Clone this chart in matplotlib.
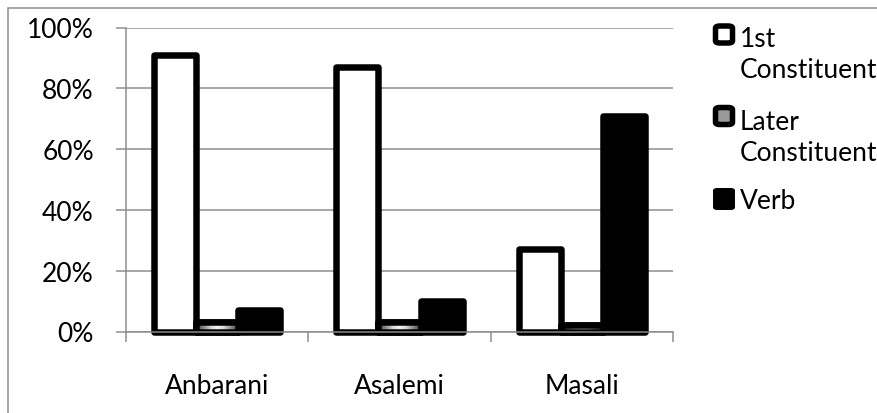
import numpy as np
import matplotlib
matplotlib.use("Agg")
import matplotlib.pyplot as plt
from matplotlib.patches import FancyBboxPatch, Rectangle
from matplotlib.ticker import PercentFormatter, FixedLocator

# ---- data ----
categories = ["Anbarani", "Asalemi", "Masali"]
series_names = ["1st\nConstituent", "Later\nConstituent", "Verb"]
first_constituent = [0.91, 0.87, 0.27]
later_constituent = [0.03, 0.03, 0.02]
verb = [0.07, 0.10, 0.71]
y_ticks = [0.0, 0.2, 0.4, 0.6, 0.8, 1.0]

W, H = 878, 414
DPI = 100
FONT = "Lato"
FS = 19
GRAY = "#8c8c8c"
PX = 72.0 / DPI  # points per pixel

plt.rcParams["font.family"] = [FONT, "DejaVu Sans"]

fig = plt.figure(figsize=(W / DPI, H / DPI), dpi=DPI)


def fx(px):
    return px / W


def fy(py):
    return 1 - py / H


# chart frame (top and left edges visible)
fig.add_artist(Rectangle((fx(8.3), fy(430)), fx(900), 421 / H,
                         transform=fig.transFigure, fill=False,
                         edgecolor=GRAY, linewidth=1.5 * PX))

left, right, top, bottom = 126, 673, 28.5, 332.5
ax = fig.add_axes([fx(left), 1 - bottom / H, (right - left) / W, (bottom - top) / H])

x = np.arange(len(categories))
bw = 42 / 182.3
lw = 6.5 * PX

ax.bar(x - bw, first_constituent, bw, facecolor="white", edgecolor="black",
       linewidth=lw, joinstyle="round", clip_on=False, zorder=1)
later_bars = ax.bar(x, later_constituent, bw, facecolor="#9a9a9a",
                    edgecolor="black", linewidth=lw, joinstyle="round",
                    clip_on=False, zorder=1)
ax.bar(x + bw, verb, bw, facecolor="black", edgecolor="black",
       linewidth=lw, joinstyle="round", clip_on=False, zorder=1)

# metallic grey shading inside the "later constituent" bars
grad = np.array([[0.35, 0.6, 0.85, 0.95, 0.85, 0.6, 0.35]])
for rect in later_bars:
    im = ax.imshow(grad, cmap="gray", vmin=0, vmax=1, aspect="auto",
                   extent=(rect.get_x(), rect.get_x() + rect.get_width(),
                           0, rect.get_height()), zorder=1.05,
                   interpolation="bilinear")
    im.set_clip_path(rect)
    outline = Rectangle((rect.get_x(), 0), rect.get_width(), rect.get_height(),
                        fill=False, edgecolor="black", linewidth=lw,
                        joinstyle="round", zorder=1.1, clip_on=False)
    ax.add_patch(outline)

ax.set_xlim(-0.5, len(categories) - 0.5)
ax.set_ylim(0, 1)
ax.set_axisbelow(True)

ax.yaxis.set_major_locator(FixedLocator(y_ticks))
ax.yaxis.set_major_formatter(PercentFormatter(1.0, decimals=0))
ax.grid(axis="y", color=GRAY, linewidth=1.5 * PX)
ax.tick_params(axis="y", length=10 * PX, width=1.5 * PX, color=GRAY,
               labelsize=FS, pad=16)

ax.set_xticks(x)
ax.set_xticklabels(categories)
ax.set_xticks(np.arange(len(categories) + 1) - 0.5, minor=True)
ax.tick_params(axis="x", which="major", length=0, labelsize=FS, pad=30)
ax.tick_params(axis="x", which="minor", length=10 * PX, width=1.5 * PX, color=GRAY)

for side in ("top", "right"):
    ax.spines[side].set_visible(False)
for side in ("left", "bottom"):
    ax.spines[side].set_color(GRAY)
    ax.spines[side].set_linewidth(1.5 * PX)
ax.spines["bottom"].set_zorder(2.5)

# legend drawn at the right of the plot
marker_rows = [35.5, 117, 200]   # centre of each key, px from top
text_baselines = [78, 161, 209]  # baseline of the last label line
styles = [dict(fc="white", ec="black", lw=5.5 * PX, size=17),
          dict(fc="#9a9a9a", ec="black", lw=5.5 * PX, size=17),
          dict(fc="black", ec="black", lw=1 * PX, size=21)]
for name, yc, yb, st in zip(series_names, marker_rows, text_baselines, styles):
    s = st["size"]
    box = FancyBboxPatch((fx(724 - s / 2), fy(yc + s / 2)), fx(s), s / H,
                         boxstyle="round,pad=0.0,rounding_size=0.005",
                         transform=fig.transFigure, facecolor=st["fc"],
                         edgecolor=st["ec"], linewidth=st["lw"],
                         joinstyle="round")
    fig.add_artist(box)
    fig.text(fx(740), fy(yb), name, ha="left", va="baseline", fontsize=FS,
             linespacing=1.3, transform=fig.transFigure)

fig.savefig("out.png", dpi=DPI)
